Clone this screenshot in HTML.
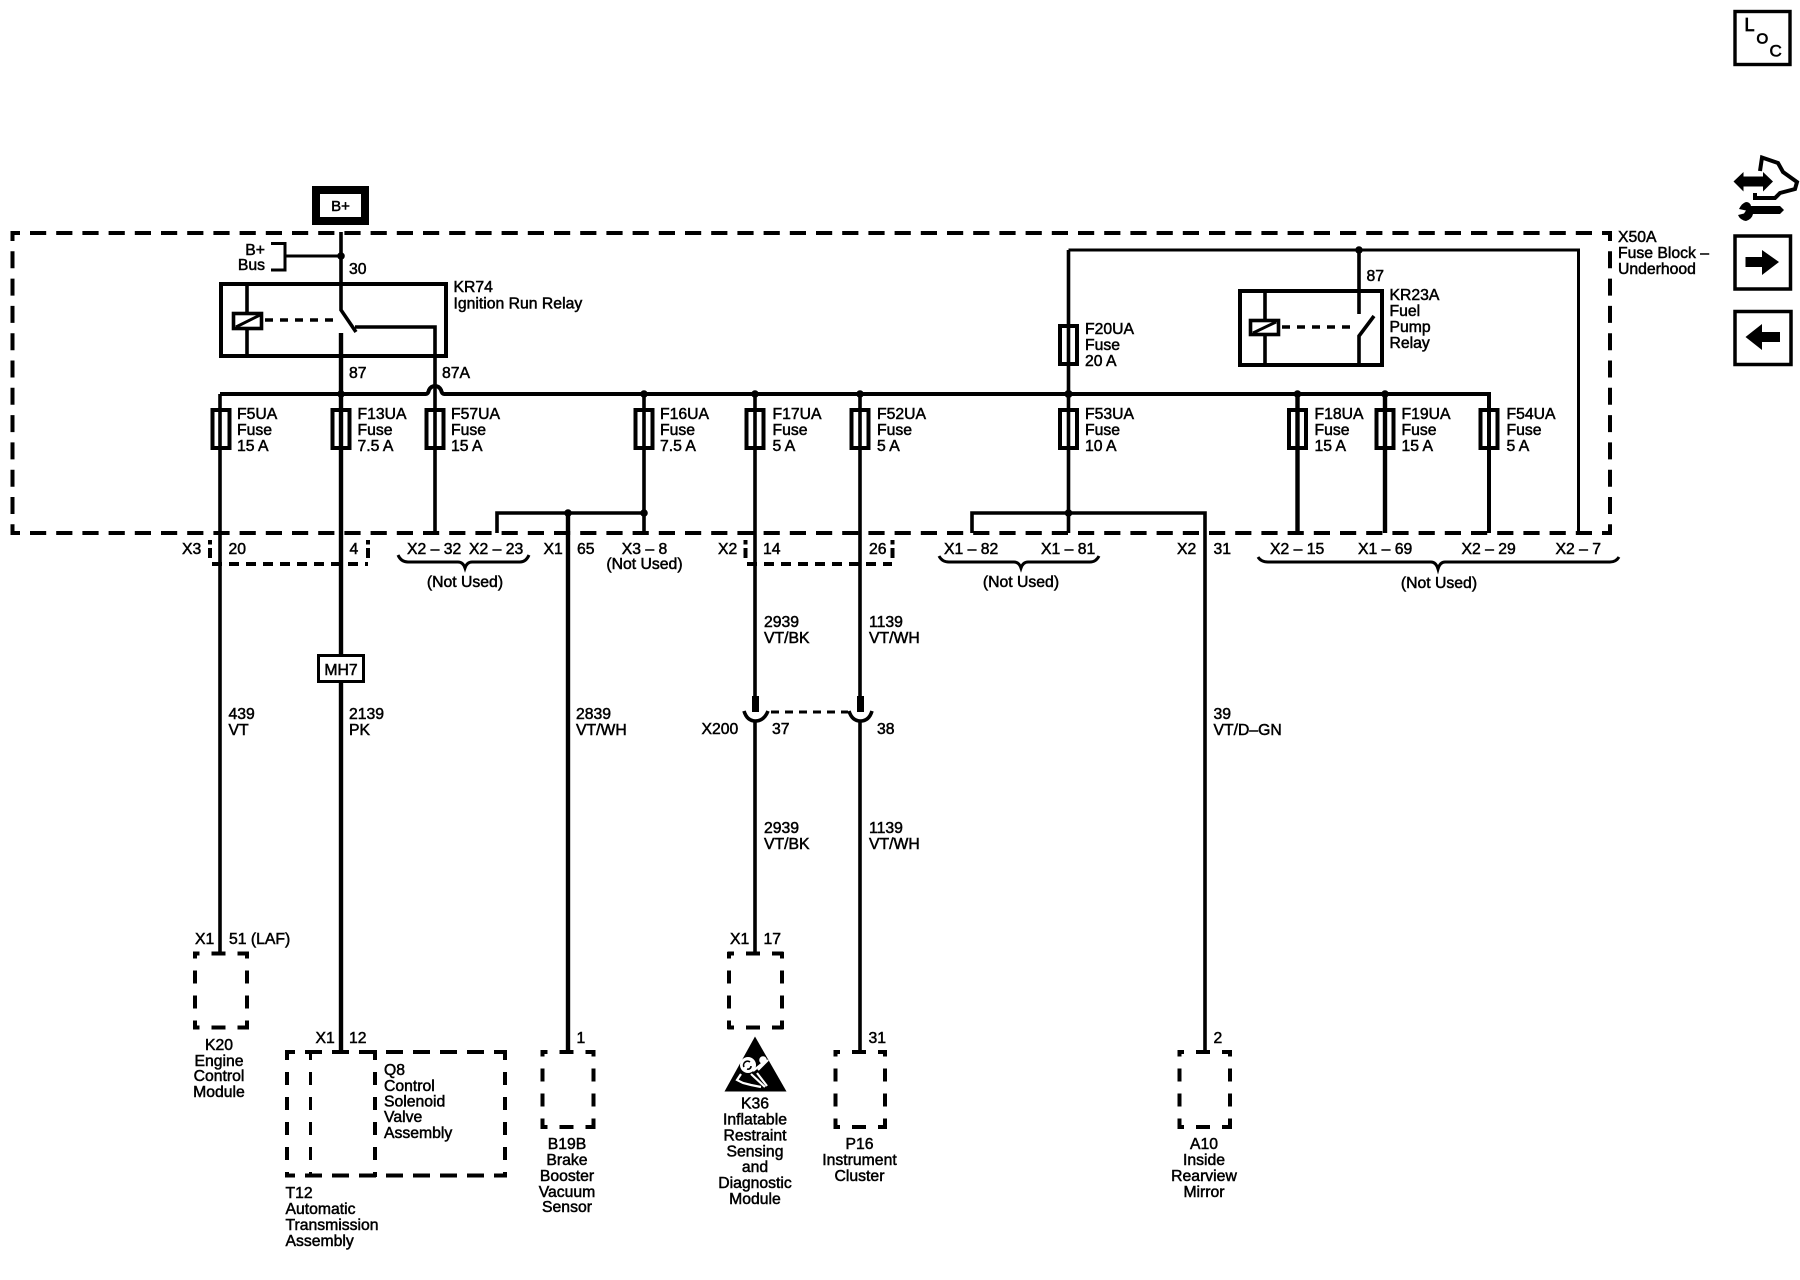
<!DOCTYPE html>
<html><head><meta charset="utf-8"><style>
html,body{margin:0;padding:0;background:#fff}
svg{display:block}
text{font-family:"Liberation Sans",sans-serif;font-size:15.75px;fill:#000;stroke:#000;stroke-width:.5}
.m{text-anchor:middle}
.w{fill:none;stroke:#000;stroke-width:3.6}
.t{fill:none;stroke:#000;stroke-width:3}
.h{fill:none;stroke:#000;stroke-width:4.4}
.d{fill:none;stroke:#000;stroke-width:4}
.ht{stroke-dasharray:14 12;stroke-dashoffset:7.5}
.vt{stroke-dasharray:13 12;stroke-dashoffset:6.5}
.f{fill:#fff;stroke:#000;stroke-width:3.6}
</style></head><body>
<svg width="1800" height="1280" viewBox="0 0 1800 1280" xmlns="http://www.w3.org/2000/svg">
<rect width="1800" height="1280" fill="#fff"/>

<!-- Fuse block boundary -->
<path class="d" d="M11,233H1612" stroke-dasharray="16.2 10" stroke-dashoffset="7.2"/>
<path class="d" d="M11,533H1612" stroke-dasharray="16.2 10" stroke-dashoffset="7.2"/>
<path class="d" d="M12.500,231V535" stroke-dasharray="17 10.3" stroke-dashoffset="7"/>
<path class="d" d="M1610,231V535" stroke-dasharray="17 10.3" stroke-dashoffset="7"/>

<!-- B+ -->
<rect x="316" y="190" width="49" height="31" fill="#fff" stroke="#000" stroke-width="8"/>
<text x="340.500" y="211" class="m" style="font-size:15px">B+</text>
<path class="w" d="M341,232V310L356,332"/>
<path class="h" d="M341,333V1052"/>
<path class="t" d="M271,243.500H285V270H271M285,256H341"/>
<text x="265" y="255" text-anchor="end">B+</text>
<text x="265" y="270" text-anchor="end">Bus</text>
<text x="349" y="274">30</text>

<!-- KR74 -->
<rect x="221" y="284" width="225" height="72" class="d"/>
<path class="w" d="M247,284V356"/>
<rect x="233.500" y="313.500" width="28" height="15" class="f"/>
<path class="t" d="M236,327L260,315"/>
<path class="w" d="M265,320H339" stroke-dasharray="8 7"/>
<path class="w" d="M355,327H435V533"/>
<text x="453.500" y="292">KR74</text>
<text x="453.500" y="308.500">Ignition Run Relay</text>
<text x="349" y="378">87</text>
<text x="442" y="378">87A</text>

<!-- Bus -->
<path class="d" d="M220,394H426Q428,394 429,390Q431,386 435,386Q439,386 441,390Q442,394 444,394H1489V533"/>
<path class="w" d="M220,394V952"/>
<path class="w" d="M644,394V533"/>
<path class="w" d="M755,394V696"/>
<path class="w" d="M860,394V696"/>
<path class="w" d="M755,722V952"/>
<path class="w" d="M860,722V1052"/>
<path class="w" d="M1068.500,250V533"/>
<path class="h" d="M1297.500,394V533"/>
<path class="h" d="M1385,394V533"/>
<path class="t" d="M1068.500,250H1578.500V533"/>

<!-- Fuses -->
<g class="d">
<rect x="212.500" y="410" width="17" height="38"/>
<rect x="332.500" y="410" width="17" height="38"/>
<rect x="426.500" y="410" width="17" height="38"/>
<rect x="635.500" y="410" width="17" height="38"/>
<rect x="746.500" y="410" width="17" height="38"/>
<rect x="851.500" y="410" width="17" height="38"/>
<rect x="1060" y="410" width="17" height="38"/>
<rect x="1060" y="326" width="17" height="38"/>
<rect x="1289" y="410" width="17" height="38"/>
<rect x="1376.500" y="410" width="17" height="38"/>
<rect x="1480.500" y="410" width="17" height="38"/>
</g>
<text x="237" y="419">F5UA</text><text x="237" y="435">Fuse</text><text x="237" y="451">15 A</text>
<text x="357.500" y="419">F13UA</text><text x="357.500" y="435">Fuse</text><text x="357.500" y="451">7.5 A</text>
<text x="451" y="419">F57UA</text><text x="451" y="435">Fuse</text><text x="451" y="451">15 A</text>
<text x="660" y="419">F16UA</text><text x="660" y="435">Fuse</text><text x="660" y="451">7.5 A</text>
<text x="772.500" y="419">F17UA</text><text x="772.500" y="435">Fuse</text><text x="772.500" y="451">5 A</text>
<text x="877" y="419">F52UA</text><text x="877" y="435">Fuse</text><text x="877" y="451">5 A</text>
<text x="1085" y="419">F53UA</text><text x="1085" y="435">Fuse</text><text x="1085" y="451">10 A</text>
<text x="1085" y="334">F20UA</text><text x="1085" y="350">Fuse</text><text x="1085" y="366">20 A</text>
<text x="1314.500" y="419">F18UA</text><text x="1314.500" y="435">Fuse</text><text x="1314.500" y="451">15 A</text>
<text x="1401.500" y="419">F19UA</text><text x="1401.500" y="435">Fuse</text><text x="1401.500" y="451">15 A</text>
<text x="1506.500" y="419">F54UA</text><text x="1506.500" y="435">Fuse</text><text x="1506.500" y="451">5 A</text>

<!-- Branches -->
<path class="w" d="M497,533V513H644"/>
<path class="h" d="M568,513V1052"/>
<path class="w" d="M972,533V513H1205V1052"/>

<!-- KR23A -->
<rect x="1240" y="291" width="142" height="74" class="d"/>
<path class="w" d="M1265,291V365"/>
<rect x="1250.500" y="320.500" width="28" height="14" class="f"/>
<path class="t" d="M1253,333L1276,322"/>
<path class="w" d="M1359,250V314M1359,365V336L1374,316"/>
<path class="w" d="M1282,327H1356" stroke-dasharray="8 7"/>
<text x="1366.500" y="281">87</text>
<text x="1389.500" y="300">KR23A</text><text x="1389.500" y="316">Fuel</text><text x="1389.500" y="332">Pump</text><text x="1389.500" y="348">Relay</text>
<text x="1618" y="242">X50A</text><text x="1618" y="258">Fuse Block –</text><text x="1618" y="274">Underhood</text>

<!-- Junctions -->
<g fill="#000">
<circle cx="341" cy="256" r="3.800"/><circle cx="341" cy="394" r="3.800"/>
<circle cx="644" cy="394" r="3.800"/><circle cx="755" cy="394" r="3.800"/>
<circle cx="860" cy="394" r="3.800"/><circle cx="1068.500" cy="394" r="4"/>
<circle cx="1297.500" cy="394" r="3.800"/><circle cx="1385" cy="394" r="3.800"/>
<circle cx="644" cy="513" r="3.800"/><circle cx="568" cy="513" r="3.800"/>
<circle cx="1068.500" cy="513" r="3.800"/><circle cx="1359" cy="250" r="3.800"/>
</g>

<!-- Connector row -->
<path class="d" d="M210,540V544.500M210,548V558M368,540V544.500M368,548V558M745.500,540V544.500M745.500,548V558M892.500,540V544.500M892.500,548V558"/>
<path class="d" d="M212,564H368" stroke-dasharray="10 7"/>
<path class="d" d="M747,564H892" stroke-dasharray="10 7"/>
<text x="182" y="554">X3</text><text x="228.500" y="554">20</text><text x="349.500" y="554">4</text>
<text x="407" y="554">X2 – 32</text><text x="469" y="554">X2 – 23</text>
<text x="543.500" y="554">X1</text><text x="577" y="554">65</text>
<text x="644.500" y="554" class="m">X3 – 8</text><text x="644.500" y="569" class="m">(Not Used)</text>
<text x="718" y="554">X2</text><text x="763" y="554">14</text><text x="869" y="554">26</text>
<text x="944" y="554">X1 – 82</text><text x="1041" y="554">X1 – 81</text>
<text x="1177" y="554">X2</text><text x="1213.500" y="554">31</text>
<text x="1270" y="554">X2 – 15</text><text x="1358" y="554">X1 – 69</text><text x="1461.500" y="554">X2 – 29</text><text x="1555.500" y="554">X2 – 7</text>
<path class="t" d="M398,555Q401,562 408,562H458Q463,562 465,568Q467,562 472,562H520Q526,562 529,555"/>
<path class="t" d="M939,556Q942,562 949,562H1014Q1019,562 1021,568Q1023,562 1028,562H1090Q1096,562 1099,556"/>
<path class="t" d="M1258,557Q1261,562 1268,562H1431Q1436,562 1438,569Q1440,562 1445,562H1610Q1616,562 1619,557"/>
<text x="465" y="587" class="m">(Not Used)</text>
<text x="1021" y="587" class="m">(Not Used)</text>
<text x="1439" y="588" class="m">(Not Used)</text>

<!-- MH7 -->
<rect x="318.500" y="655.500" width="45" height="26" class="f" style="stroke-width:3"/>
<text x="341" y="675" class="m">MH7</text>

<!-- wire labels -->
<text x="228.500" y="719">439</text><text x="228.500" y="735">VT</text>
<text x="349" y="719">2139</text><text x="349" y="735">PK</text>
<text x="576" y="719">2839</text><text x="576" y="735">VT/WH</text>
<text x="1213.500" y="719">39</text><text x="1213.500" y="735">VT/D–GN</text>
<text x="764" y="627">2939</text><text x="764" y="643">VT/BK</text>
<text x="869" y="627">1139</text><text x="869" y="643">VT/WH</text>
<text x="764" y="833">2939</text><text x="764" y="849">VT/BK</text>
<text x="869" y="833">1139</text><text x="869" y="849">VT/WH</text>

<!-- X200 -->
<rect x="752" y="696" width="7" height="16" fill="#000"/>
<rect x="857" y="696" width="7" height="16" fill="#000"/>
<path class="w" d="M744,711Q747,721 755.500,721Q764,721 768,711"/>
<path class="w" d="M849,711Q852,721 860.500,721Q869,721 872,711"/>
<path class="t" d="M771,712H848" stroke-dasharray="8 6"/>
<text x="701.500" y="734">X200</text><text x="772" y="734">37</text><text x="877" y="734">38</text>

<!-- K20 -->
<g class="d">
<path class="ht" d="M193,953.500H249"/><path class="ht" d="M193,1027.500H249"/>
<path class="vt" d="M195,952V1029"/><path class="vt" d="M247,952V1029"/>
</g>
<text x="195" y="944">X1</text><text x="229" y="944">51 (LAF)</text>
<text x="219" y="1050" class="m">K20</text><text x="219" y="1066" class="m">Engine</text><text x="219" y="1081" class="m">Control</text><text x="219" y="1097" class="m">Module</text>

<!-- T12/Q8 -->
<g class="d">
<path d="M285,1052H507" stroke-dasharray="17 10" stroke-dashoffset="7"/>
<path d="M285,1175.500H507" stroke-dasharray="17 10" stroke-dashoffset="7"/>
<path d="M287,1050V1177" stroke-dasharray="13 12" stroke-dashoffset="3"/>
<path d="M505,1050V1177" stroke-dasharray="13 12" stroke-dashoffset="3"/>
<path d="M375,1050V1177" stroke-dasharray="13 12" stroke-dashoffset="3"/>
<path style="stroke-width:3" d="M310.500,1050V1177" stroke-dasharray="13 12" stroke-dashoffset="3"/>
</g>
<text x="315.500" y="1043">X1</text><text x="349" y="1043">12</text>
<text x="384" y="1075">Q8</text><text x="384" y="1091">Control</text><text x="384" y="1106.500">Solenoid</text><text x="384" y="1122">Valve</text><text x="384" y="1138">Assembly</text>
<text x="285.500" y="1198">T12</text><text x="285.500" y="1214">Automatic</text><text x="285.500" y="1230">Transmission</text><text x="285.500" y="1246">Assembly</text>

<!-- B19B -->
<g class="d">
<path class="ht" d="M541,1052H595"/><path class="ht" d="M541,1127H595"/>
<path class="vt" d="M542.500,1050V1129"/><path class="vt" d="M593.500,1050V1129"/>
</g>
<text x="576.500" y="1043">1</text>
<text x="567" y="1149" class="m">B19B</text><text x="567" y="1165" class="m">Brake</text><text x="567" y="1181" class="m">Booster</text><text x="567" y="1197" class="m">Vacuum</text><text x="567" y="1212" class="m">Sensor</text>

<!-- K36 -->
<g class="d">
<path class="ht" d="M727.500,953.500H783.500"/><path class="ht" d="M727.500,1027.500H783.500"/>
<path class="vt" d="M729,952V1029"/><path class="vt" d="M782,952V1029"/>
</g>
<text x="730" y="944">X1</text><text x="763.500" y="944">17</text>
<path d="M755,1036.500L786.500,1091.500H724.500Z" fill="#000"/>
<circle cx="748" cy="1065" r="8" fill="#fff"/>
<g fill="none" stroke="#000" stroke-width="1.600">
<path d="M744,1067a4,4 0 0 1 6,-5M747,1069a3,3 0 0 0 4,-3"/>
</g>
<g fill="none" stroke="#fff" stroke-width="2.200">
<path d="M753,1071L764,1062M741,1074L737,1080L743,1083L751,1085L761,1087M751,1074L765,1087M757,1073L767,1086M758,1070L768,1060"/>
</g>
<circle cx="763" cy="1060" r="3.800" fill="#fff"/>
<text x="755" y="1108.500" class="m">K36</text><text x="755" y="1124.500" class="m">Inflatable</text><text x="755" y="1140.500" class="m">Restraint</text><text x="755" y="1156.500" class="m">Sensing</text><text x="755" y="1172" class="m">and</text><text x="755" y="1188" class="m">Diagnostic</text><text x="755" y="1204" class="m">Module</text>

<!-- P16 -->
<g class="d">
<path class="ht" d="M833.500,1052H887"/><path class="ht" d="M833.500,1127H887"/>
<path class="vt" d="M835.500,1050V1129"/><path class="vt" d="M885,1050V1129"/>
</g>
<text x="868.500" y="1043">31</text>
<text x="859.500" y="1149" class="m">P16</text><text x="859.500" y="1165" class="m">Instrument</text><text x="859.500" y="1181" class="m">Cluster</text>

<!-- A10 -->
<g class="d">
<path class="ht" d="M1177.500,1052H1232"/><path class="ht" d="M1177.500,1127H1232"/>
<path class="vt" d="M1179.500,1050V1129"/><path class="vt" d="M1230,1050V1129"/>
</g>
<text x="1213.500" y="1043">2</text>
<text x="1204" y="1149" class="m">A10</text><text x="1204" y="1165" class="m">Inside</text><text x="1204" y="1181" class="m">Rearview</text><text x="1204" y="1197" class="m">Mirror</text>

<!-- Side icons -->
<rect x="1735" y="11.500" width="55" height="53" fill="none" stroke="#000" stroke-width="3.400"/>
<text x="1744.500" y="31" style="font-size:18px;stroke-width:.8">L</text>
<text x="1756.500" y="43.500" style="font-size:15px;stroke-width:.8">O</text>
<text x="1769.500" y="56.500" style="font-size:17px;stroke-width:.6">C</text>

<path d="M1733.500,181.500L1743.500,172V176.500H1763V172L1773,181.500L1763,191.500V186.500H1743.500V191.500Z" fill="#000"/>
<path class="d" d="M1760,171L1762,157.500L1778,163L1783,172L1797,182L1795,189L1780,193L1775,198H1755V193"/>
<path d="M1751,206H1780L1784,210L1780,214H1753Q1752,219 1746,221Q1740,220 1738,215L1744,213.500L1746,210.500L1739,209Q1742,203 1746,202Q1750,202 1751,206Z" fill="#000"/>

<rect x="1735" y="236" width="55.500" height="53" fill="none" stroke="#000" stroke-width="3.500"/>
<path d="M1745.500,257H1762V250L1779,262L1762,275V267H1745.500Z" fill="#000"/>
<rect x="1735" y="311.500" width="56" height="53" fill="none" stroke="#000" stroke-width="3.500"/>
<path d="M1780,332H1762V324L1745.500,337L1762,350V342H1780Z" fill="#000"/>
</svg>
</body></html>
